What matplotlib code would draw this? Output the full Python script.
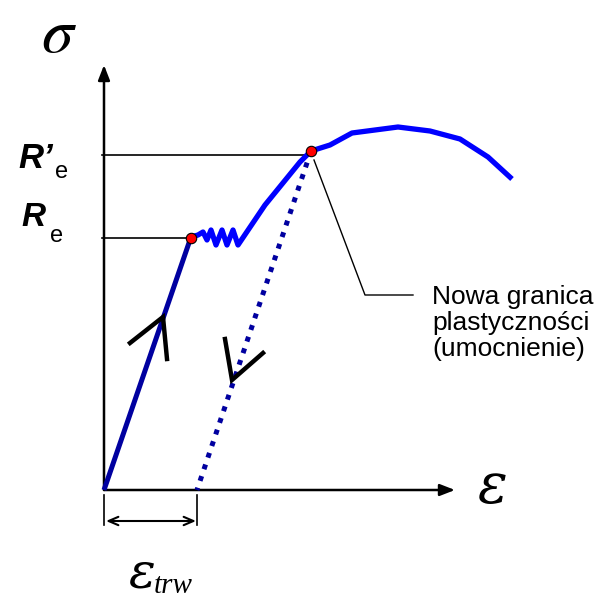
import matplotlib
matplotlib.use('Agg')
import matplotlib.pyplot as plt

# Diagram units: strain to the right, stress upward, origin at the axes crossing
load_strain = [0, 87]
load_stress = [0, 253]

curve_strain = [87, 94, 99, 103, 107, 112, 118, 123, 129, 134, 161, 196, 207,
                226, 248, 294, 326, 356, 384, 408]
curve_stress = [253, 255, 258, 250, 260, 245, 260, 245, 260, 245, 285, 328, 339,
                345, 357, 363, 359, 351, 333, 311]

unload_strain = [207, 93]
unload_stress = [339, 0]

Re = 252
Re_prime = 335
Re_strain = 87
Re_prime_strain = 207
Re_prime_point = 339
eps_trw = 93

x_axis_end = 351
y_axis_end = 425

label_sigma = r'$\sigma$'
label_eps = 'ε'
annotation_text = 'Nowa granica\nplastyczności\n(umocnienie)'

fig = plt.figure(figsize=(6.0, 6.02), dpi=100)
ax = fig.add_axes([0, 0, 1, 1])
ax.set_xlim(-104, 496)
ax.set_ylim(-112, 490)
ax.axis('off')

dark_blue = '#0000A0'
blue = '#0000FF'

# axes with arrows
ax.annotate('', xy=(x_axis_end, 0), xytext=(0, 0),
            arrowprops=dict(arrowstyle='-|>,head_length=0.9,head_width=0.35',
                            lw=1.8, color='black', shrinkA=0, shrinkB=0))
ax.annotate('', xy=(0, y_axis_end), xytext=(0, 0),
            arrowprops=dict(arrowstyle='-|>,head_length=0.9,head_width=0.35',
                            lw=1.8, color='black', shrinkA=0, shrinkB=0))

# reference lines
ax.plot([-2, Re_strain], [Re, Re], color='black', lw=1.2, zorder=2)
ax.plot([-2, Re_prime_strain], [Re_prime, Re_prime], color='black', lw=1.2, zorder=2)

# loading line
ax.plot(load_strain, load_stress, color=dark_blue, lw=3.6, solid_capstyle='butt', zorder=3)
# hardening curve
ax.plot(curve_strain, curve_stress, color=blue, lw=3.8, solid_joinstyle='round',
        solid_capstyle='butt', zorder=3)
# unloading line
ax.plot(unload_strain, unload_stress, color=dark_blue, lw=3.6,
        linestyle=(0, (1, 1.45)), dash_capstyle='butt', zorder=3)

# red points
ax.plot([Re_strain, Re_prime_strain], [Re, Re_prime_point], 'o', color='red',
        mec='black', mew=0.8, ms=7.5, zorder=5)

# chevrons
ax.plot([26, 59, 63], [147, 173, 131], color='black', lw=3.2, zorder=4,
        solid_joinstyle='miter')
ax.plot([121, 128, 159], [151, 110, 137], color='black', lw=3.2, zorder=4,
        solid_joinstyle='miter')

# annotation leader
ax.plot([210, 261, 309], [330, 195, 195], color='black', lw=1.0, zorder=2)
ax.text(328, 167, annotation_text, ha='left', va='center', fontsize=19,
        family='Liberation Sans', linespacing=1.08)

# permanent strain dimension
ax.plot([0, 0], [-5, -35], color='black', lw=1.2)
ax.plot([eps_trw, eps_trw], [-5, -35], color='black', lw=1.2)
ax.annotate('', xy=(eps_trw - 1, -31), xytext=(2, -31),
            arrowprops=dict(arrowstyle='<->,head_length=0.7,head_width=0.3',
                            lw=1.5, color='black', shrinkA=0, shrinkB=0))

# labels
ax.text(-45, 438, label_sigma, ha='center', va='baseline', fontsize=46,
        math_fontfamily='stix')
ax.text(388, 2, label_eps, ha='center', va='center', fontsize=40,
        family='DejaVu Serif', style='italic')
ax.text(38, -84, label_eps, ha='center', va='center', fontsize=36,
        family='DejaVu Serif', style='italic')
ax.text(69, -96, 'trw', ha='center', va='center', fontsize=21,
        family='Liberation Serif', style='italic')

ax.text(-68, 332, 'R’', ha='center', va='center', fontsize=25,
        family='Liberation Sans', weight='bold', style='italic')
ax.text(-42, 318, 'e', ha='center', va='center', fontsize=17,
        family='Liberation Sans')
ax.text(-71, 273, 'R', ha='center', va='center', fontsize=24,
        family='Liberation Sans', weight='bold', style='italic')
ax.text(-47, 254, 'e', ha='center', va='center', fontsize=17,
        family='Liberation Sans')

fig.savefig('out.png', dpi=100)
